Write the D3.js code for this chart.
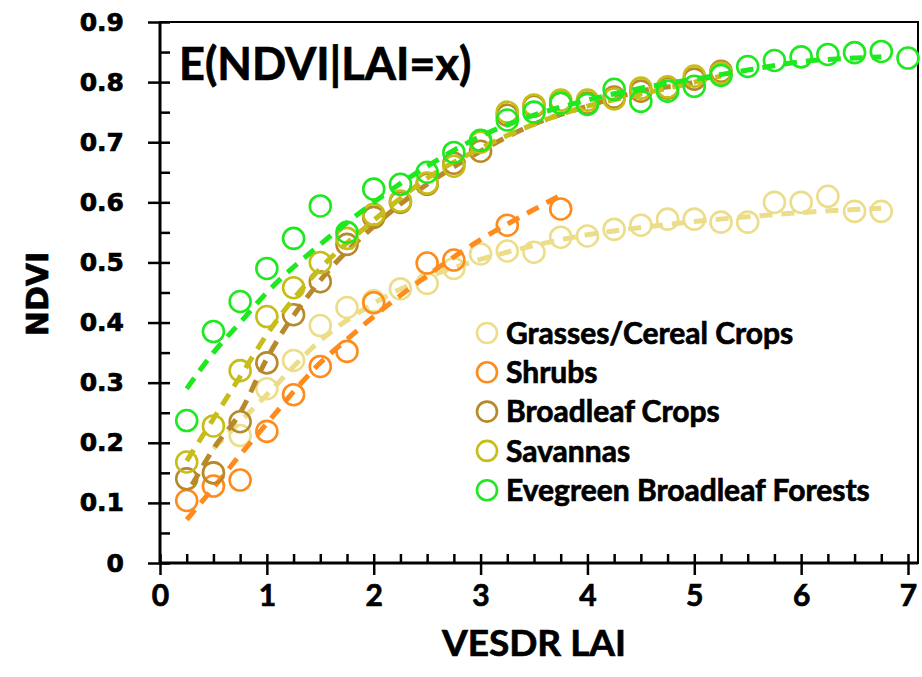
<!DOCTYPE html>
<html>
<head>
<meta charset="utf-8">
<script src="https://cdn.jsdelivr.net/npm/d3@7"></script>
<style>
  body { margin: 0; background: #fff; }
  svg text { fill: #000; }
  .heavy { stroke: #000; stroke-width: 0.7px; }
</style>
</head>
<body>
<div id="chart-container"></div>
<script>
// LAI steps used by every series
var grassLai = [0.5, 0.75, 1, 1.25, 1.5, 1.75, 2, 2.25, 2.5, 2.75, 3, 3.25, 3.5, 3.75, 4, 4.25, 4.5, 4.75, 5, 5.25, 5.5, 5.75, 6, 6.25, 6.5, 6.75];
var grassNdvi = [0.15, 0.212, 0.29, 0.337, 0.395, 0.425, 0.436, 0.456, 0.465, 0.49, 0.514, 0.519, 0.517, 0.542, 0.544, 0.555, 0.562, 0.572, 0.572, 0.567, 0.567, 0.6, 0.6, 0.61, 0.585, 0.585];

var shrubLai = [0.25, 0.5, 0.75, 1, 1.25, 1.5, 1.75, 2, 2.5, 2.75, 3.25, 3.75];
var shrubNdvi = [0.104, 0.128, 0.138, 0.219, 0.28, 0.327, 0.352, 0.433, 0.499, 0.504, 0.562, 0.589];

var cropLai = [0.25, 0.5, 0.75, 1, 1.25, 1.5, 1.75, 2, 2.25, 2.5, 2.75, 3, 3.25, 3.5, 3.75, 4, 4.25, 4.5, 4.75, 5, 5.25];
var cropNdvi = [0.14, 0.15, 0.235, 0.333, 0.413, 0.468, 0.53, 0.575, 0.6, 0.63, 0.665, 0.685, 0.745, 0.76, 0.765, 0.765, 0.775, 0.785, 0.79, 0.805, 0.818];

var savLai = [0.25, 0.5, 0.75, 1, 1.25, 1.5, 1.75, 2, 2.25, 2.5, 2.75, 3, 3.25, 3.5, 3.75, 4, 4.25, 4.5, 4.75, 5, 5.25];
var savNdvi = [0.168, 0.228, 0.32, 0.41, 0.458, 0.5, 0.54, 0.58, 0.602, 0.632, 0.66, 0.7, 0.75, 0.762, 0.77, 0.77, 0.772, 0.79, 0.792, 0.81, 0.815];

var ebfLai = [0.25, 0.5, 0.75, 1, 1.25, 1.5, 1.75, 2, 2.25, 2.5, 2.75, 3, 3.25, 3.5, 3.75, 4, 4.25, 4.5, 4.75, 5, 5.25, 5.5, 5.75, 6, 6.25, 6.5, 6.75, 7];
var ebfNdvi = [0.237, 0.385, 0.435, 0.49, 0.54, 0.594, 0.55, 0.622, 0.63, 0.65, 0.683, 0.703, 0.737, 0.75, 0.765, 0.763, 0.788, 0.768, 0.785, 0.793, 0.811, 0.826, 0.836, 0.842, 0.846, 0.849, 0.851, 0.84];

// dashed fitted curves
var grassFitLai = [0.5, 0.75, 1, 1.5, 2, 2.5, 3, 3.5, 4, 4.5, 5, 5.5, 6, 6.5, 6.75];
var grassFitNdvi = [0.19, 0.235, 0.28, 0.37, 0.432, 0.475, 0.505, 0.528, 0.546, 0.558, 0.568, 0.576, 0.583, 0.588, 0.59];
var shrubFitLai = [0.25, 0.5, 0.75, 1, 1.25, 1.5, 1.75, 2, 2.5, 3, 3.5, 3.75];
var shrubFitNdvi = [0.072, 0.125, 0.18, 0.232, 0.285, 0.333, 0.372, 0.41, 0.478, 0.538, 0.588, 0.612];
var cropFitLai = [0.3, 0.5, 0.75, 1, 1.5, 2, 2.5, 3, 3.5, 4, 4.5, 5, 5.25];
var cropFitNdvi = [0.13, 0.19, 0.25, 0.34, 0.47, 0.56, 0.63, 0.685, 0.73, 0.76, 0.785, 0.8, 0.815];
var savFitLai = [0.25, 0.5, 0.75, 1, 1.5, 2, 2.5, 3, 3.5, 4, 4.5, 5, 5.25];
var savFitNdvi = [0.17, 0.24, 0.31, 0.38, 0.49, 0.57, 0.64, 0.69, 0.73, 0.76, 0.78, 0.8, 0.81];
var ebfFitLai = [0.25, 0.5, 0.75, 1, 1.5, 2, 2.5, 3, 3.5, 4, 4.5, 5, 5.5, 6, 6.5, 6.75];
var ebfFitNdvi = [0.29, 0.35, 0.4, 0.45, 0.53, 0.6, 0.66, 0.71, 0.745, 0.77, 0.79, 0.805, 0.82, 0.834, 0.84, 0.842];

var names = ["Grasses/Cereal Crops", "Shrubs", "Broadleaf Crops", "Savannas", "Evegreen Broadleaf Forests"];
var colors = ["#ecdd8a", "#ff8b1c", "#b8892b", "#c6bd18", "#1ee81e"];

var yTicks = [0, 0.1, 0.2, 0.3, 0.4, 0.5, 0.6, 0.7, 0.8, 0.9];
var xTicks = [0, 1, 2, 3, 4, 5, 6, 7];

var series = [
  { pts: d3.zip(grassLai, grassNdvi), fit: d3.zip(grassFitLai, grassFitNdvi) },
  { pts: d3.zip(shrubLai, shrubNdvi), fit: d3.zip(shrubFitLai, shrubFitNdvi) },
  { pts: d3.zip(cropLai, cropNdvi), fit: d3.zip(cropFitLai, cropFitNdvi) },
  { pts: d3.zip(savLai, savNdvi), fit: d3.zip(savFitLai, savFitNdvi) },
  { pts: d3.zip(ebfLai, ebfNdvi), fit: d3.zip(ebfFitLai, ebfFitNdvi) }
];

var width = 922, height = 677;
var plotLeft = 160, plotTop = 22, plotBottom = 563, plotRight = 918;

var x = d3.scaleLinear().domain([0, 7]).range([plotLeft, 908]);
var y = d3.scaleLinear().domain([0, 0.9]).range([plotBottom, plotTop]);

var svg = d3.select("#chart-container")
  .append("svg")
  .attr("width", width)
  .attr("height", height);

// plot frame
svg.append("rect")
  .attr("x", plotLeft).attr("y", plotTop)
  .attr("width", plotRight - plotLeft).attr("height", plotBottom - plotTop)
  .attr("fill", "none").attr("stroke", "#000").attr("stroke-width", 2);

// y axis: major ticks cross the axis, minor ticks point inside
svg.append("g")
  .attr("transform", "translate(" + plotLeft + ",0)")
  .call(d3.axisLeft(y).tickValues(d3.range(0.05, 0.9, 0.1)).tickSize(-10).tickFormat(""))
  .call(function(g) { g.select(".domain").remove(); g.selectAll("line").attr("stroke-width", 2.5); });
svg.append("g")
  .attr("transform", "translate(" + (plotLeft + 10) + ",0)")
  .call(d3.axisLeft(y).tickValues(yTicks).tickSize(22).tickFormat(d3.format(".1~f")))
  .call(function(g) {
    g.select(".domain").remove();
    g.selectAll("line").attr("stroke-width", 2.5);
    g.selectAll("text").attr("x", -46).attr("class", "heavy")
      .style("font-family", "'DejaVu Sans', Verdana, sans-serif")
      .style("font-weight", "bold").style("font-size", "25px");
  });
svg.append("line")
  .attr("x1", plotLeft).attr("x2", plotLeft).attr("y1", plotTop).attr("y2", plotBottom)
  .attr("stroke", "#000").attr("stroke-width", 3);

// x axis: minor ticks every 0.25 point up, majors cross
svg.append("g")
  .attr("transform", "translate(0," + plotBottom + ")")
  .call(d3.axisTop(x).tickValues(d3.range(0.25, 7, 0.25).filter(function(d) { return d % 1 !== 0; })).tickSize(9).tickFormat(""))
  .call(function(g) { g.select(".domain").remove(); g.selectAll("line").attr("stroke-width", 2.5); });
svg.append("g")
  .attr("transform", "translate(0," + (plotBottom - 9) + ")")
  .call(d3.axisBottom(x).tickValues(xTicks).tickSize(21).tickPadding(10).tickFormat(d3.format("d")))
  .call(function(g) {
    g.select(".domain").remove();
    g.selectAll("line").attr("stroke-width", 2.5);
    g.selectAll("text").attr("class", "heavy")
      .style("font-family", "Lato, 'Open Sans', sans-serif")
      .style("font-weight", "bold").style("font-size", "30px");
  });
svg.append("line")
  .attr("x1", plotLeft).attr("x2", plotRight).attr("y1", plotBottom).attr("y2", plotBottom)
  .attr("stroke", "#000").attr("stroke-width", 3);

// series: markers, then the dashed fit
var line = d3.line()
  .x(function(d) { return x(d[0]); })
  .y(function(d) { return y(d[1]); })
  .curve(d3.curveMonotoneX);

series.forEach(function(s, i) {
  var g = svg.append("g");
  g.selectAll("circle")
    .data(s.pts)
    .enter().append("circle")
    .attr("cx", function(d) { return x(d[0]); })
    .attr("cy", function(d) { return y(d[1]); })
    .attr("r", 10.5)
    .attr("fill", "none")
    .attr("stroke", colors[i])
    .attr("stroke-width", 2.6);
  g.append("path")
    .datum(s.fit)
    .attr("d", line)
    .attr("fill", "none")
    .attr("stroke", colors[i])
    .attr("stroke-width", 5)
    .attr("stroke-dasharray", "13,9");
});

// legend
var legend = svg.append("g")
  .selectAll("g")
  .data(names)
  .enter().append("g")
  .attr("transform", function(d, i) { return "translate(487," + (333 + i * 39.3) + ")"; });
legend.append("circle")
  .attr("r", 10)
  .attr("fill", "none")
  .attr("stroke", function(d, i) { return colors[i]; })
  .attr("stroke-width", 2.6);
legend.append("text")
  .attr("x", 19)
  .attr("dy", "0.36em")
  .attr("class", "heavy")
  .style("font-family", "Lato, 'Open Sans', sans-serif")
  .style("font-weight", "bold")
  .style("font-size", "30px")
  .text(function(d) { return d; });

// titles
svg.append("text")
  .attr("x", 179).attr("y", 80)
  .attr("class", "heavy")
  .style("font-family", "Lato, 'Open Sans', sans-serif")
  .style("font-weight", "bold").style("font-size", "45px")
  .text("E(NDVI|LAI=x)");

svg.append("text")
  .attr("x", x(3.5)).attr("y", 656)
  .attr("text-anchor", "middle")
  .attr("class", "heavy")
  .style("font-family", "Lato, 'Open Sans', sans-serif")
  .style("font-weight", "bold").style("font-size", "37px")
  .text("VESDR LAI");

svg.append("text")
  .attr("transform", "translate(48,294) rotate(-90)")
  .attr("text-anchor", "middle")
  .attr("class", "heavy")
  .style("font-family", "'DejaVu Sans', Verdana, sans-serif")
  .style("font-weight", "bold").style("font-size", "30px")
  .text("NDVI");
</script>
</body>
</html>
